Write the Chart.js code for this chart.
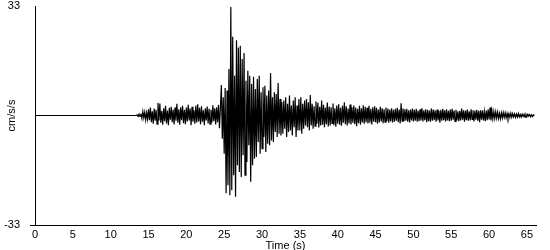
<!DOCTYPE html>
<html>
<head>
<meta charset="utf-8">
<script src="https://cdn.jsdelivr.net/npm/chart.js@4.4.1/dist/chart.umd.min.js"></script>
<style>
html,body{margin:0;padding:0;background:#fff;}
canvas{display:block;}
</style>
</head>
<body>
<canvas id="c" width="550" height="250"></canvas>
<script>
// ---- Data ----
const xTickLabels = [0,5,10,15,20,25,30,35,40,45,50,55,60,65];
const yTickLabels = [-33, 33];
const xTitle = "Time (s)";
const yTitle = "cm/s/s";

// quiet pre-event record
const preTimes = [0, 13.375];
const preAccel = [0, 0];

// main record: samples every 0.125 s starting at 13.5 s (cm/s/s)
const sampleStart = 13.5;
const sampleStep = 0.125;
const accel = [
  0.2,-0.3,0.4,-0.3,
  0.6,-0.9,1.2,-0.7,1.0,-1.3,0.8,-1.1,
  1.9,-1.4,2.4,-2.0,1.3,-2.5,2.1,-1.6,
  1.7,-2.6,3.8,-1.5,3.6,-2.2,1.4,-2.8,
  2.2,-1.7,2.9,-2.4,1.5,-2.9,2.3,-1.3,
  2.6,-2.0,1.8,-2.7,2.4,-1.6,3.5,-2.2,
  1.9,-2.8,2.5,-1.4,2.9,-2.3,1.7,-2.6,
  2.4,-1.8,3.2,-1.5,2.1,-2.9,2.6,-1.9,
  1.6,-2.5,3.0,-2.1,3.4,-1.8,2.3,-2.6,
  2.8,-1.9,1.6,-2.9,2.2,-1.5,2.7,-2.4,
  2.0,-2.6,1.7,-2.1,3.1,-1.7,2.2,-2.7,
  2.5,-2.0,3.2,-3.8,2.4,9.2,-7.0,5.5,
  -11.5,8.3,-23.4,7.5,-21.0,14.0,-24.0,32.7,
  -22.5,23.7,-18.0,12.0,-24.5,22.7,-15.0,20.5,
  -17.0,21.0,-18.5,17.0,-12.0,18.8,-18.0,10.5,
  -14.0,13.5,-9.0,12.0,-20.0,9.5,-15.0,11.7,
  -13.0,8.0,-12.5,11.0,-8.0,12.0,-11.5,7.0,
  -10.0,8.5,-6.5,9.0,-11.0,6.0,-8.5,7.5,
  -9.0,12.8,-7.5,5.5,-8.0,7.0,-5.0,6.5,
  -6.5,9.8,-5.5,5.0,-6.0,4.0,-5.5,4.5,
  -4.0,5.5,-6.5,3.5,-5.0,6.0,-4.5,3.0,
  -6.0,4.5,-3.5,5.5,-6.5,3.0,-4.5,5.0,
  -4.5,5.5,-5.5,3.5,-4.0,4.5,-3.0,5.0,
  -3.5,4.0,-4.5,6.2,-3.0,3.5,-4.0,2.8,
  -3.2,4.2,-2.5,3.8,-3.6,2.6,-3.0,4.5,
  -2.8,3.2,-3.5,2.4,-2.6,3.9,-3.3,2.7,
  -3.0,2.5,-2.4,3.6,-2.9,2.2,-3.4,3.0,
  -2.5,3.4,-2.8,2.3,-3.1,2.9,-2.2,4.0,
  -2.6,2.8,-3.0,2.1,-2.4,3.3,-2.7,2.5,
  -2.2,3.0,-2.6,2.4,-3.2,2.0,-2.3,2.9,
  -2.8,2.2,-2.1,3.1,-2.5,2.6,-2.0,2.3,
  -2.4,2.9,-2.2,2.0,-2.7,2.5,-1.9,2.8,
  -2.0,2.3,-2.5,1.8,-2.1,2.6,-1.8,2.2,
  -2.3,1.9,-2.0,2.4,-1.7,2.1,-2.2,1.8,
  -1.8,2.2,-2.1,1.7,-1.9,2.0,-1.6,2.3,
  -2.0,1.8,-2.4,3.7,-1.7,2.1,-1.8,1.9,
  -1.6,2.0,-1.9,1.6,-2.1,1.8,-1.5,2.1,
  -1.8,1.7,-1.6,2.0,-1.9,1.5,-1.7,1.9,
  -1.5,2.2,-1.8,1.6,-1.4,1.9,-2.0,1.7,
  -1.7,1.5,-1.9,2.1,-1.6,1.8,-1.4,1.6,
  -1.9,1.8,-1.5,1.4,-2.2,1.7,-1.6,2.0,
  -1.4,1.6,-1.8,1.9,-1.5,1.4,-1.7,1.8,
  -1.6,2.0,-1.3,1.5,-1.8,1.7,-1.5,1.3,
  -1.7,1.4,-1.5,2.1,-1.3,1.6,-1.9,1.5,
  -1.4,1.8,-1.6,1.3,-1.5,1.9,-1.2,1.6,
  -1.8,1.5,-1.3,1.7,-1.6,1.4,-2.0,1.6,
  -1.3,1.6,-1.5,1.2,-1.7,1.5,-1.4,1.9,
  -1.2,2.4,-1.5,1.4,-1.0,1.2,-0.9,1.1,
  -0.8,1.0,-0.9,0.7,-1.0,0.8,-0.7,0.9,
  -0.6,0.8,-0.7,0.6,-0.8,0.5,-0.6,0.7,
  -0.5,0.6,-0.4,0.5,-0.6,0.4,-0.5,0.6,
  -0.4,0.3,-0.5,0.4,-0.3,0.4,-0.5,0.3,
  -0.3,0.4,-0.2,0.3,-0.4,0.2,-0.3,0.2,
  0.0
];

// ---- Build points ----
const points = [];
preTimes.forEach((t, i) => points.push({x: t, y: preAccel[i]}));
accel.forEach((v, i) => points.push({x: sampleStart + i * sampleStep, y: v}));

const FONT = {family: "'Liberation Sans', Arial, sans-serif", size: 11};

new Chart(document.getElementById('c'), {
  type: 'line',
  data: {
    datasets: [{
      data: points,
      borderColor: '#000',
      borderWidth: 1.2,
      pointRadius: 0,
      tension: 0,
      fill: false
    }]
  },
  options: {
    responsive: false,
    animation: false,
    devicePixelRatio: 1,
    parsing: false,
    normalized: true,
    layout: {padding: {top: 6, right: 14, left: 0, bottom: 0}},
    plugins: {legend: {display: false}, tooltip: {enabled: false}},
    scales: {
      x: {
        type: 'linear',
        min: 0,
        max: 66.2,
        grid: {display: false, drawTicks: false},
        border: {display: true, color: '#000', width: 1},
        ticks: {color: '#000', font: FONT, padding: 3, maxRotation: 0, autoSkip: false},
        afterBuildTicks: s => { s.ticks = xTickLabels.map(v => ({value: v})); },
        afterFit: s => { s.height = 25; s.paddingLeft = 0; s.paddingRight = 0; },
        title: {display: true, text: xTitle, color: '#000', font: FONT, padding: {top: 0, bottom: -3}}
      },
      y: {
        type: 'linear',
        min: -33,
        max: 33,
        grid: {
          display: true,
          drawOnChartArea: false,
          drawTicks: true,
          tickLength: 5,
          color: c => (c.tick && c.tick.value === -33) ? '#000' : 'rgba(0,0,0,0)',
          tickColor: c => (c.tick && c.tick.value === -33) ? '#000' : 'rgba(0,0,0,0)'
        },
        border: {display: true, color: '#000', width: 1},
        ticks: {color: '#000', font: FONT, padding: 10, autoSkip: false},
        afterBuildTicks: s => { s.ticks = yTickLabels.map(v => ({value: v})); },
        afterFit: s => { s.width = 35; s.paddingTop = 0; s.paddingBottom = 0; },
        title: {display: true, text: yTitle, color: '#000', font: FONT, padding: {top: 5, bottom: 0}}
      }
    }
  }
});
</script>
</body>
</html>
